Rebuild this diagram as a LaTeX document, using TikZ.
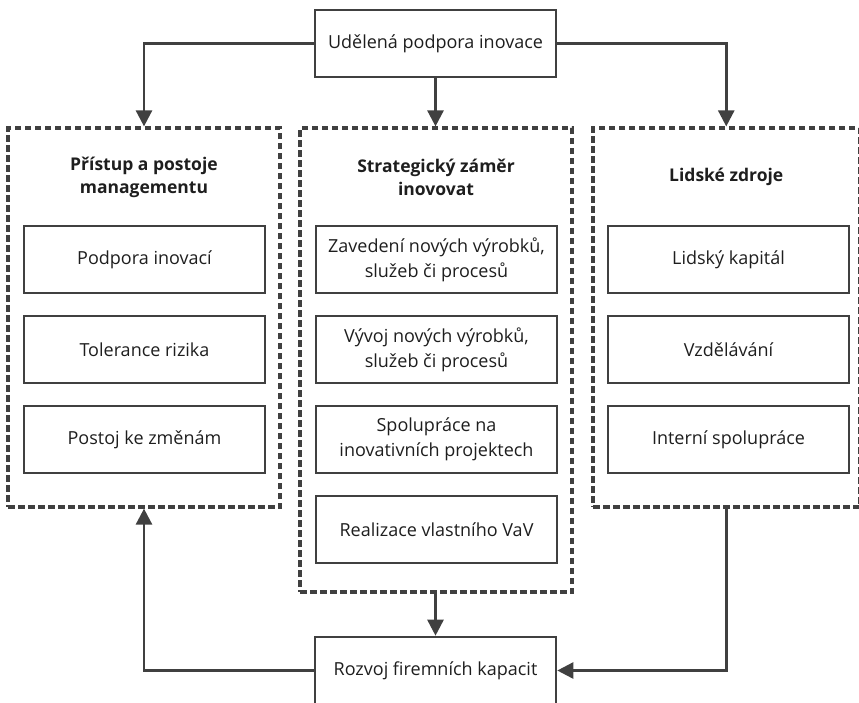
\documentclass[tikz,border=0pt]{standalone}
\usepackage{fontspec}
\setmainfont{Open Sans}
\usetikzlibrary{arrows.meta,positioning,calc}
\definecolor{boxgray}{HTML}{404040}
\definecolor{textgray}{HTML}{1E1E1E}

\begin{document}
\begin{tikzpicture}[x=1pt,y=-1pt,
    box/.style={draw=boxgray, line width=2.6pt, minimum width=241pt, minimum height=67pt,
      inner sep=0pt, align=center, text=textgray, font=\fontsize{18}{25}\selectfont},
    group/.style={draw=boxgray, line width=3.2pt, dash pattern=on 6.5pt off 3.5pt,
      minimum width=272pt, inner sep=0pt},
    title/.style={align=center, text=textgray, font=\fontsize{17.5}{23}\selectfont\bfseries},
    link/.style={draw=boxgray, line width=2.6pt, -{Triangle[width=16pt,length=16pt]}}]
    \pgfmathsetmacro{\rowA}{259.5}
    \pgfmathsetmacro{\dy}{90}

    \useasboundingbox (0,0) rectangle (859,702);

    % dashed groups
    \node[group, minimum height=379pt] (grpA) at (144,317.5) {};
    \node[group, minimum height=464pt] (grpB) at (436,360) {};
    \node[group, minimum height=379pt, minimum width=266.5pt] (grpC) at (726.25,317.5) {};

    \node[title] (titA) at ($(grpA.north)+(0,50.5)$) {Přístup a postoje\\managementu};
    \node[title] (titB) at ($(grpB.north)+(0,50.5)$) {Strategický záměr\\inovovat};
    \node[title] (titC) at ($(grpC.north)+(0,50.5)$) {Lidské zdroje};

    % inner boxes
    \node[box] (a1) at (144.5,\rowA) {Podpora inovací};
    \node[box] (a2) at (144.5,\rowA+\dy) {Tolerance rizika};
    \node[box] (a3) at (144.5,\rowA+2*\dy) {Postoj ke změnám};

    \node[box] (b1) at (436.5,\rowA) {Zavedení nových výrobků,\\služeb či procesů};
    \node[box] (b2) at (436.5,\rowA+\dy) {Vývoj nových výrobků,\\služeb či procesů};
    \node[box] (b3) at (436.5,\rowA+2*\dy) {Spolupráce na\\inovativních projektech};
    \node[box] (b4) at (436.5,\rowA+3*\dy) {Realizace vlastního VaV};

    \node[box] (c1) at (728.5,\rowA) {Lidský kapitál};
    \node[box] (c2) at (728.5,\rowA+\dy) {Vzdělávání};
    \node[box] (c3) at (728.5,\rowA+2*\dy) {Interní spolupráce};

    % top and bottom
    \node[box] (top) at (435.5,43.5) {Udělená podpora inovace};
    \node[box] (bot) at (435.5,670.5) {Rozvoj firemních kapacit};

    \draw[link] (top.west) -| (grpA.north);
    \draw[link] (top.south) -- (top.south|-grpB.north);
    \draw[link] (top.east) -| (grpC.north);
    \draw[link] (grpB.south-|bot.north) -- (bot.north);
    \draw[link] (grpC.south) |- (bot.east);
    \draw[link] (bot.west) -| (grpA.south);
\end{tikzpicture}
\end{document}
